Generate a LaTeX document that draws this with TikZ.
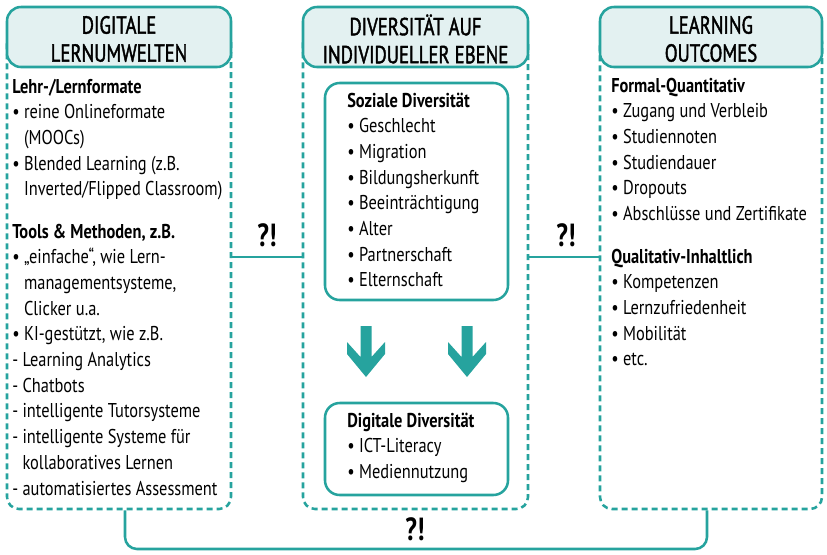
\documentclass[tikz,border=0pt]{standalone}
\usepackage{fontspec}
\setmainfont{PT Sans}[FakeStretch=0.82]
\newfontfamily\hdrfont{PT Sans}[FakeStretch=0.76, FakeBold=1.6]
\newfontfamily\qfont{PT Sans}[FakeStretch=0.8]
\definecolor{tl}{HTML}{26A39E}
\definecolor{hf}{HTML}{E3F1F1}
\begin{document}
\begin{tikzpicture}[x=0.75pt,y=-0.75pt,
  hdr/.style={draw=tl, fill=hf, line width=1.9pt, rounded corners=10.5pt, minimum height=45pt, inner sep=0pt},
  hdrtxt/.style={align=center, font=\hdrfont\fontsize{18.5}{21}\selectfont, inner sep=0pt},
  body/.style={draw=tl, dash pattern=on 4.5pt off 3pt, line width=1.9pt, rounded corners=9pt, minimum height=479*0.75pt, inner sep=0pt},
  innerbox/.style={draw=tl, line width=1.9pt, rounded corners=11pt, minimum width=183*0.75pt, inner sep=0pt},
  txt/.style={anchor=base west, inner sep=0pt, font=\fontsize{15}{18}\selectfont},
  qx/.style={font=\qfont\bfseries\fontsize{24}{28}\selectfont, inner sep=0pt},
  con/.style={draw=tl, line width=1.9pt}]
\useasboundingbox (0,0) rectangle (827,554);
% bodies
\node[body, minimum width=224*0.75pt] (L) at (119,269.5) {};
\node[body, minimum width=225*0.75pt] (M) at (415.5,269.5) {};
\node[body, minimum width=222*0.75pt] (R) at (711,269.5) {};
% headers
\node[hdr, minimum width=224*0.75pt] (LH) at (119,37) {};
\node[hdr, minimum width=225*0.75pt] (MH) at (415.5,37) {};
\node[hdr, minimum width=222*0.75pt] (RH) at (711,37) {};
\node[hdrtxt] (LHt) at (119,39) {DIGITALE\\LERNUMWELTEN};
\node[hdrtxt] (MHt) at (415.5,39) {DIVERSITÄT AUF\\INDIVIDUELLER EBENE};
\node[hdrtxt] (RHt) at (711,39) {LEARNING\\OUTCOMES};
% inner boxes
\node[innerbox, minimum height=217*0.75pt] (S) at (416.5,191.5) {};
\node[innerbox, minimum height=92*0.75pt] (D) at (416.5,449) {};
% left text
\foreach \t [count=\i] in {\textbf{Lehr-/Lernformate}, • reine Onlineformate, \phantom{• }(MOOCs), • Blended Learning (z.B., \phantom{• }Inverted/Flipped Classroom)}
  \node[txt] (la\i) at (12,{93+(\i-1)*25.7}) {\t};
\foreach \t [count=\i] in {{\textbf{Tools \& Methoden, z.B.}}, {• „einfache“, wie Lern-}, {\phantom{• }managementsysteme,}, \phantom{• }Clicker u.a., {• KI-gestützt, wie z.B.}, - Learning Analytics, - Chatbots, - intelligente Tutorsysteme, - intelligente Systeme für, \phantom{- }kollaboratives Lernen, - automatisiertes Assessment}
  \node[txt] (lb\i) at (12,{238+(\i-1)*25.7}) {\t};
% middle text
\foreach \t [count=\i] in {\textbf{Soziale Diversität}, • Geschlecht, • Migration, • Bildungsherkunft, • Beeinträchtigung, • Alter, • Partnerschaft, • Elternschaft}
  \node[txt] (ms\i) at (347,{107+(\i-1)*25.7}) {\t};
\foreach \t [count=\i] in {\textbf{Digitale Diversität}, • ICT-Literacy, • Mediennutzung}
  \node[txt] (md\i) at (347,{427+(\i-1)*25.7}) {\t};
% right text
\foreach \t [count=\i] in {\textbf{Formal-Quantitativ}, • Zugang und Verbleib, • Studiennoten, • Studiendauer, • Dropouts, • Abschlüsse und Zertifikate}
  \node[txt] (ra\i) at (611,{92+(\i-1)*25.7}) {\t};
\foreach \t [count=\i] in {\textbf{Qualitativ-Inhaltlich}, • Kompetenzen, • Lernzufriedenheit, • Mobilität, • etc.}
  \node[txt] (rb\i) at (611,{263+(\i-1)*25.7}) {\t};
% arrows
\foreach \ax in {366,467}
  \fill[tl, shift={(\ax,0)}] (-5.5,326) -- (5.5,326) -- (5.5,357) -- (19,342) -- (19,354) -- (0,377) -- (-19,354) -- (-19,342) -- (-5.5,357) -- cycle;
% connectors
\coordinate (c1) at (266,257);
\coordinate (c2) at (565,257);
\coordinate (b1) at (125,549);
\coordinate (b2) at (707,549);
\draw[con] (L.east|-c1) -- (M.west|-c1);
\draw[con] (M.east|-c2) -- (R.west|-c2);
\draw[con, rounded corners=9pt] (L.south-|b1) -- (b1) -- (b2) -- (R.south-|b2);
\node[qx] (q1) at (267,235) {?!};
\node[qx] (q2) at (566,235) {?!};
\node[qx] (q3) at (415,529) {?!};
\end{tikzpicture}
\end{document}
